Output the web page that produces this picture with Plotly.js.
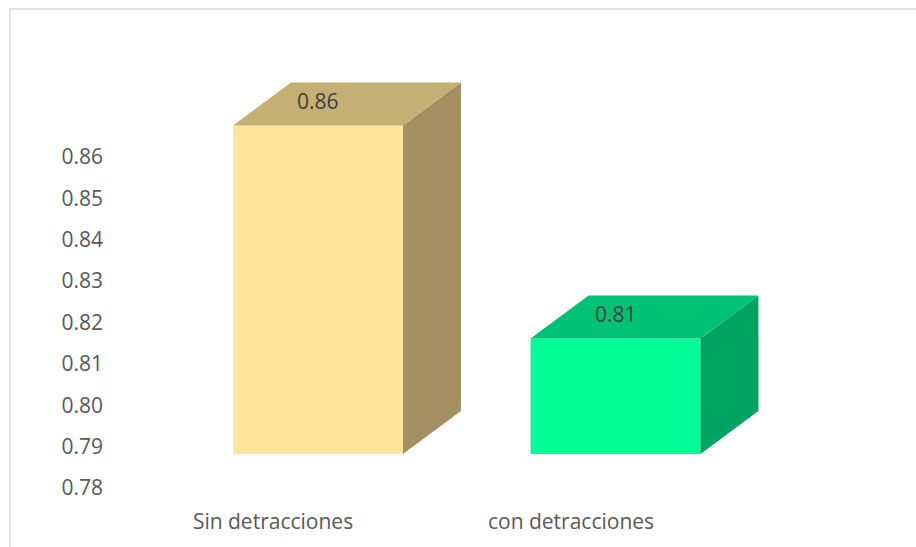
<!DOCTYPE html>
<html>
<head>
<meta charset="utf-8">
<script src="https://cdn.plot.ly/plotly-3.0.1.min.js"></script>
<style>html,body{margin:0;padding:0;background:#fff;}#chart{width:916px;height:547px;}</style>
</head>
<body>
<div id="chart"></div>
<script>
// ---- data ----
const categories = ['Sin detracciones', 'con detracciones'];
const values = [0.86, 0.81];
const dataLabels = ['0.86', '0.81'];
const yTickVals = [0.78, 0.79, 0.80, 0.81, 0.82, 0.83, 0.84, 0.85, 0.86];
const yTickText = ['0.78', '0.79', '0.80', '0.81', '0.82', '0.83', '0.84', '0.85', '0.86'];

// ---- styles ----
const frontColors = ['#FEE599', '#00FD96'];
const topColors = ['#C4B074', '#00C275'];
const sideColors = ['#A29060', '#00A462'];

const FONT = 'Open Sans, Noto Sans, sans-serif';
const BAR_W = 0.571;      // bar width in category units
const DEPTH_X = 0.195;    // 3D depth offset, x units
const DEPTH_Y = 0.0101;   // 3D depth offset, y units
const Y2_RANGE = [0.78289, 0.88477];

const idx = categories.map((c, i) => i);
const traces = [];

// invisible carrier trace so the label axes (x / y) are drawn
traces.push({
  type: 'scatter', mode: 'markers', xaxis: 'x', yaxis: 'y',
  x: idx, y: values, marker: {opacity: 0, size: 1},
  hoverinfo: 'skip', showlegend: false
});

// side and top faces built from the values through the axis scales
values.forEach((v, i) => {
  const x0 = i - BAR_W / 2, x1 = i + BAR_W / 2;
  const base = Y2_RANGE[0];
  traces.push({
    type: 'scatter', mode: 'lines', xaxis: 'x2', yaxis: 'y2',
    x: [x1, x1, x1 + DEPTH_X, x1 + DEPTH_X, x1],
    y: [base, v, v + DEPTH_Y, base + DEPTH_Y, base],
    fill: 'toself', fillcolor: sideColors[i], line: {width: 0},
    hoverinfo: 'skip', showlegend: false
  });
  traces.push({
    type: 'scatter', mode: 'lines', xaxis: 'x2', yaxis: 'y2',
    x: [x0, x1, x1 + DEPTH_X, x0 + DEPTH_X, x0],
    y: [v, v, v + DEPTH_Y, v + DEPTH_Y, v],
    fill: 'toself', fillcolor: topColors[i], line: {width: 0},
    hoverinfo: 'skip', showlegend: false
  });
});

// front faces
traces.push({
  type: 'bar', xaxis: 'x2', yaxis: 'y2',
  x: idx, y: values, width: BAR_W,
  marker: {color: frontColors, line: {width: 0}},
  hoverinfo: 'skip', showlegend: false
});

const annotations = values.map((v, i) => ({
  xref: 'x2', yref: 'y2', x: i, y: v, yshift: 25,
  text: dataLabels[i], showarrow: false,
  font: {family: FONT, size: 21, color: '#404040'}
}));

const layout = {
  width: 916, height: 547,
  margin: {l: 108, r: 8, t: 20, b: 40},
  paper_bgcolor: '#ffffff', plot_bgcolor: 'rgba(0,0,0,0)',
  showlegend: false,
  xaxis: {
    domain: [0, 1], range: [-0.5537, 2.1309], anchor: 'y',
    tickvals: idx, ticktext: categories,
    showgrid: false, zeroline: false, showline: false, ticks: '',
    tickfont: {family: FONT, size: 21, color: '#595959'},
    fixedrange: true
  },
  yaxis: {
    domain: [0, 1], range: [0.77541, 0.89311], anchor: 'x',
    tickvals: yTickVals, ticktext: yTickText,
    showgrid: false, zeroline: false, showline: false, ticks: '',
    ticklabelstandoff: 4,
    tickfont: {family: FONT, size: 21, color: '#595959'},
    fixedrange: true
  },
  xaxis2: {
    domain: [0, 1], range: [-0.7059, 1.9832], anchor: 'y2',
    visible: false, fixedrange: true
  },
  yaxis2: {
    domain: [0.10883, 1], range: Y2_RANGE, anchor: 'x2',
    visible: false, fixedrange: true
  },
  annotations: annotations,
  shapes: [{
    type: 'rect', xref: 'paper', yref: 'paper',
    x0: -0.1225, x1: 1.2, y0: -0.2, y1: 1.0226,
    line: {color: '#D9D9D9', width: 1.5}, fillcolor: 'rgba(0,0,0,0)', layer: 'below'
  }]
};

Plotly.newPlot('chart', traces, layout, {displayModeBar: false, staticPlot: true});
</script>
</body>
</html>
